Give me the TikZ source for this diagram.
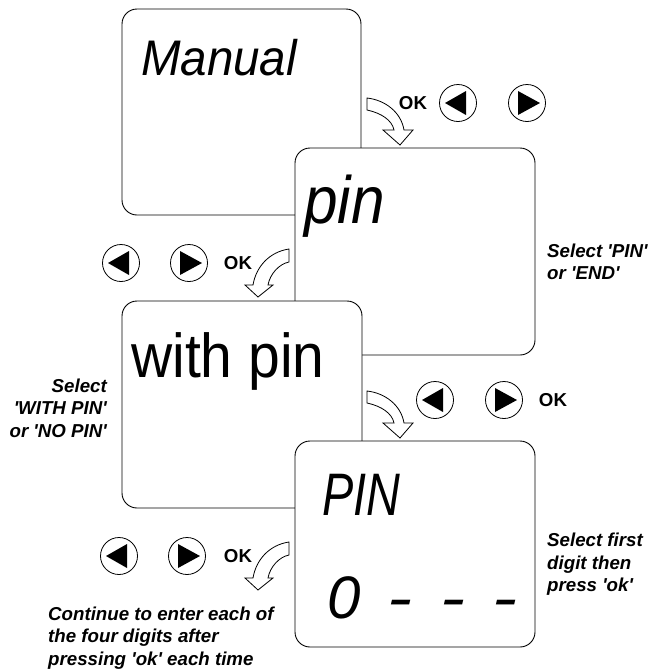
\documentclass[tikz,border=0pt]{standalone}
\usepackage{fontspec}
\setmainfont{Liberation Sans}
\usepackage{graphicx}
\newcommand\sq{\textquotesingle}
\newcommand\dsh{\scalebox{1.25}[1]{-}}
\begin{document}
\begin{tikzpicture}[x=1pt,y=-1pt,
  screen/.style={draw, fill=white, rounded corners=15pt, line width=0.9pt, inner sep=0pt},
  lcd/.style={inner sep=0pt, anchor=base west},
  note/.style={inner sep=0pt, anchor=base west, align=left, font=\fontsize{18.7}{22.5}\selectfont\bfseries\itshape},
  notel/.style={note, anchor=base east, align=right},
  oklab/.style={inner sep=0pt, font=\fontsize{18.7}{22.5}\selectfont\bfseries},
  btnL/.style={draw, circle, line width=0.8pt, minimum size=37pt, inner sep=0pt,
    path picture={\fill ([xshift=-13pt]path picture bounding box.center) -- ++(21pt,12pt) -- ++(0pt,-24pt) -- cycle;}},
  btnR/.style={draw, circle, line width=0.8pt, minimum size=37pt, inner sep=0pt,
    path picture={\fill ([xshift=13pt]path picture bounding box.center) -- ++(-22pt,12pt) -- ++(0pt,-24pt) -- cycle;}},
  harrowR/.pic={\draw[line width=0.8pt, fill=white] (0,0) .. controls (18,2) and (34,14) .. (37,32) -- (46,32) -- (33,47) -- (16,32) -- (27,32) .. controls (25,22) and (14,15) .. (0,12) -- cycle;},
  harrowL/.pic={\draw[line width=0.8pt, fill=white] (0,0) .. controls (-20,3) and (-33,18) .. (-36,36) -- (-44,36) -- (-31,48) -- (-16,36) -- (-21,36) .. controls (-19,25) and (-10,15) .. (0,13) -- cycle;}
]
\useasboundingbox (0,0) rectangle (649,670);

% screen 1
\node[screen, minimum width=239pt, minimum height=206pt] (s1) at (241.5,112) {};
\node[lcd] (t1) at (141,75) {\fontsize{50}{50}\selectfont\itshape\scalebox{0.95}[1]{Manual}};

% row 1 buttons
\coordinate (a1) at (367,98);
\pic at (a1) {harrowR};
\node[oklab] (ok1) at (413,103) {OK};
\node[btnL] (l1) at (458,103) {};
\node[btnR] (r1) at (527,103) {};

% screen 2
\node[screen, minimum width=240pt, minimum height=207pt] (s2) at (415,251.5) {};
\node[lcd] (t2) at (304,223) {\fontsize{67}{67}\selectfont\itshape\scalebox{0.9}[1]{pin}};
\node[note] (n2) at (547,279.5) {Select \sq PIN\sq\\or \sq END\sq};

% row 2 buttons
\node[btnL] (l2) at (121,263) {};
\node[btnR] (r2) at (189,263) {};
\node[oklab] (ok2) at (238,263) {OK};
\coordinate (a2) at (289,249);
\pic at (a2) {harrowL};

% screen 3
\node[screen, minimum width=240pt, minimum height=207pt] (s3) at (242,404.5) {};
\node[lcd] (t3) at (131,377) {\fontsize{62}{62}\selectfont\scalebox{0.92}[1]{with pin}};
\node[notel] (n3) at (107,437) {Select\\\sq WITH PIN\sq\\or \sq NO PIN\sq};

% row 3 buttons
\coordinate (a3) at (367,391);
\pic at (a3) {harrowR};
\node[btnL] (l3) at (435,400) {};
\node[btnR] (r3) at (504,400) {};
\node[oklab] (ok3) at (553,400) {OK};

% screen 4
\node[screen, minimum width=240pt, minimum height=206pt] (s4) at (415,544) {};
\node[lcd] (t4) at (322,515) {\fontsize{60}{60}\selectfont\itshape\scalebox{0.78}[1]{PIN}};
\node[lcd] (t5) at (327,618) {\fontsize{60}{60}\selectfont\itshape 0\hspace{27pt}\dsh\hspace{28pt}\dsh\hspace{27pt}\dsh};
\node[note] (n4) at (547,591.5) {Select first\\digit then\\press \sq ok\sq};

% row 4 buttons
\node[btnL] (l4) at (119,556) {};
\node[btnR] (r4) at (187,556) {};
\node[oklab] (ok4) at (238,556) {OK};
\coordinate (a4) at (289,542);
\pic at (a4) {harrowL};
\node[note] (n5) at (48,665) {Continue to enter each of\\the four digits after\\pressing \sq ok\sq{} each time};
\end{tikzpicture}
\end{document}
